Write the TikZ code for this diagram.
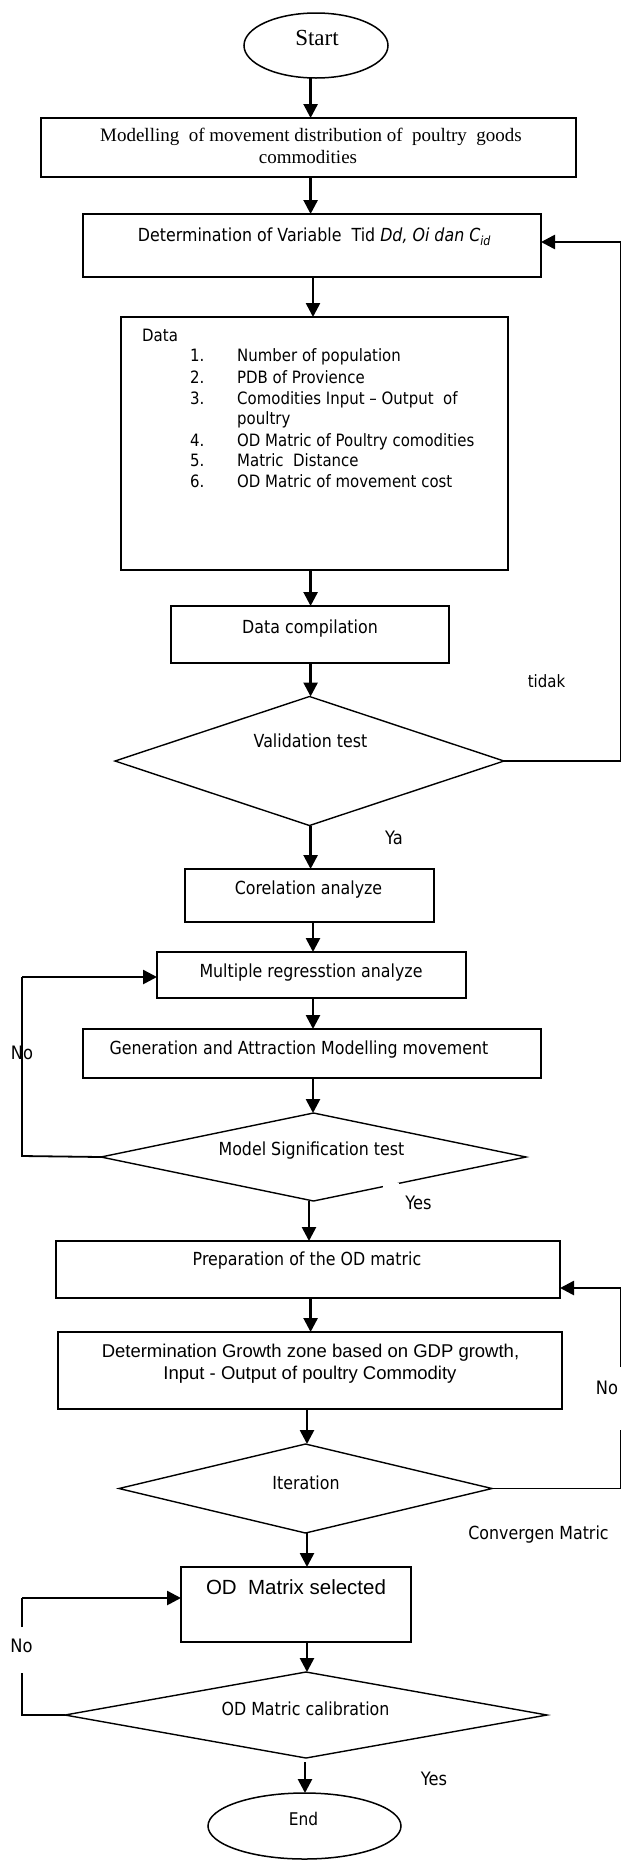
\documentclass[tikz,border=0pt]{standalone}
\usepackage{fontspec}
\setmainfont{DejaVu Sans}[FakeStretch=0.88]
\newfontfamily\serifnf{Liberation Serif}
\newfontfamily\arialnf{Liberation Sans}
\usetikzlibrary{arrows.meta,shapes.geometric}
\begin{document}
\begin{tikzpicture}[x=1pt,y=-1pt,
  box/.style={draw, rectangle, line width=1.8pt, inner sep=0pt, outer sep=0pt},
  dec/.style={draw, diamond, line width=1.4pt, inner sep=0pt, outer sep=0pt},
  term/.style={draw, ellipse, line width=1.5pt, inner sep=0pt, outer sep=0pt},
  arr/.style={-{Triangle[width=14pt,length=14pt]}, line width=2.6pt},
  ln/.style={line width=1.8pt},
  txt/.style={inner sep=0pt, anchor=mid, font=\fontsize{18}{22}\selectfont},
  item/.style={inner sep=0pt, anchor=mid west, font=\fontsize{17}{21}\selectfont},
  lab/.style={inner sep=0pt, anchor=mid, font=\fontsize{18.5}{22}\selectfont}]

\fill[white] (0,0) rectangle (622,1861);
\useasboundingbox (0,0) rectangle (622,1861);

% ---- shapes ----
\node[term, minimum width=144pt, minimum height=65pt] (start) at (316,45.5) {};
\node[txt, font=\serifnf\fontsize{23}{27}\selectfont] (tstart) at (317,43) {Start};

\node[box, minimum width=535pt, minimum height=59pt] (b1) at (308.5,147.5) {};
\node[txt, font=\serifnf\fontsize{19}{23}\selectfont] (t1a) at (311,139) {Modelling\ \ of movement distribution of\ \ poultry\ \ goods};
\node[txt, font=\serifnf\fontsize{19}{23}\selectfont] (t1b) at (308,161) {commodities};

\node[box, minimum width=458pt, minimum height=63pt] (b2) at (312,245.5) {};
\node[txt] (t2) at (314.5,239) {Determination of Variable\ \ Tid \textit{Dd, Oi dan C\textsubscript{id}}};

\node[box, minimum width=387pt, minimum height=253pt] (data) at (314.5,443.5) {};
\node[item] (tdata) at (142,339) {Data};
\node[item] (n1) at (190,359) {1.};
\node[item] (i1) at (237,359) {Number of population};
\node[item] (n2) at (190,381) {2.};
\node[item] (i2) at (237,381) {PDB of Provience};
\node[item] (n3) at (190,402) {3.};
\node[item] (i3a) at (237,402) {Comodities Input – Output\ \ of};
\node[item] (i3b) at (237,422) {poultry};
\node[item] (n4) at (190,444) {4.};
\node[item] (i4) at (237,444) {OD Matric of Poultry comodities};
\node[item] (n5) at (190,464) {5.};
\node[item] (i5) at (237,464) {Matric\ \ Distance};
\node[item] (n6) at (190,485) {6.};
\node[item] (i6) at (237,485) {OD Matric of movement cost};

\node[box, minimum width=278pt, minimum height=57pt] (dc) at (310,634.5) {};
\node[txt] (tdc) at (310,631) {Data compilation};

\node[dec, minimum width=389pt, minimum height=129pt] (val) at (309.5,761) {};
\node[txt] (tval) at (310.5,745) {Validation test};

\node[box, minimum width=249pt, minimum height=53pt] (cor) at (309.5,895.5) {};
\node[txt] (tcor) at (308.5,892) {Corelation analyze};

\node[box, minimum width=309pt, minimum height=46pt] (mult) at (311.5,975) {};
\node[txt] (tmult) at (311,975) {Multiple regresstion analyze};

\node[box, minimum width=458pt, minimum height=49pt] (gen) at (312,1053.5) {};
\node[txt] (tgen) at (299,1052) {Generation and Attraction Modelling movement};

\node[dec, minimum width=425pt, minimum height=88pt] (model) at (313.5,1157) {};
\fill[white] (383,1182.5) rectangle (399,1192);
\node[txt] (tmodel) at (311.5,1153) {Model Signification test};

\node[box, minimum width=504pt, minimum height=57pt] (prep) at (308,1269.5) {};
\node[txt] (tprep) at (307,1263) {Preparation of the OD matric};

\node[box, minimum width=504.5pt, minimum height=77pt] (det) at (310,1370.5) {};
\node[txt, font=\arialnf\fontsize{18.5}{22}\selectfont] (tdeta) at (310.5,1355) {Determination Growth zone based on GDP growth,};
\node[txt, font=\arialnf\fontsize{18.5}{22}\selectfont] (tdetb) at (310,1377) {Input - Output of poultry Commodity};

\node[dec, minimum width=373pt, minimum height=89pt] (iter) at (305.5,1488.5) {};
\node[txt] (titer) at (306,1487) {Iteration};

\node[box, minimum width=230pt, minimum height=75pt] (od) at (296,1604.5) {};
\node[txt, font=\arialnf\fontsize{20.5}{24}\selectfont] (tod) at (296,1592) {OD\ \ Matrix selected};

\node[dec, minimum width=482pt, minimum height=86pt] (cal) at (306,1715) {};
\node[txt] (tcal) at (305.5,1713) {OD Matric calibration};

\node[term, minimum width=193pt, minimum height=66pt] (end) at (304.5,1826) {};
\node[txt, font=\fontsize{17.5}{21}\selectfont] (tend) at (303.5,1823) {End};

% ---- labels ----
\node[lab, font=\fontsize{17}{21}\selectfont] (ltidak) at (546.5,685) {tidak};
\node[lab] (lya) at (394,842) {Ya};
\node[lab] (lno1) at (22,1057) {No};
\node[lab] (lyes1) at (418.5,1207) {Yes};
\node[lab] (lno2) at (607,1392) {No};
\node[lab, font=\fontsize{18}{22}\selectfont] (lconv) at (538.5,1537) {Convergen Matric};
\node[lab] (lno3) at (21.5,1650) {No};
\node[lab] (lyes2) at (434,1783) {Yes};

% ---- main arrows ----
\draw[arr] (start.south -| 310.6,0) -- (b1.north -| 310.6,0);
\draw[arr] (b1.south -| 310.6,0) -- (b2.north -| 310.6,0);
\draw[arr] (b2.south -| 313,0) -- (data.north -| 313,0);
\draw[arr] (data.south -| 310.6,0) -- (dc.north -| 310.6,0);
\draw[arr] (dc.south -| 310.6,0) -- (val.north -| 310.6,0);
\draw[arr] (val.south -| 310.6,0) -- (cor.north -| 310.6,0);
\draw[arr] (cor.south -| 313,0) -- (mult.north -| 313,0);
\draw[arr] (mult.south -| 313,0) -- (gen.north -| 313,0);
\draw[arr] (gen.south -| 313,0) -- (model.north -| 313,0);
\draw[arr] (model.south -| 309,0) -- (prep.north -| 309,0);
\draw[arr] (prep.south -| 310.6,0) -- (det.north -| 310.6,0);
\draw[arr] (det.south -| 307,0) -- (iter.north -| 307,0);
\draw[arr] (iter.south -| 307,0) -- (od.north -| 307,0);
\draw[arr] (od.south -| 307,0) -- (cal.north -| 307,0);
\draw[arr] (cal.south -| 305,0) ++(0,4) -- (end.north -| 305,0);

% ---- loops ----
\coordinate (r1b) at (620.5,761);
\coordinate (r1t) at (620.5,242);
\draw[ln] (val.east) -- (r1b) -- (r1t);
\draw[arr] (r1t) -- (r1t -| b2.east);

\coordinate (l1b) at (22,1156);
\coordinate (l1t) at (22,977);
\draw[ln] (model.west) -- (l1b) -- (l1t);
\draw[arr] (l1t) -- (l1t -| mult.west);

\coordinate (r2b) at (620.5,1488.5);
\coordinate (r2g1) at (620.5,1430);
\coordinate (r2g2) at (620.5,1367);
\coordinate (r2t) at (620.5,1288);
\draw[ln] (iter.east) -- (r2b) -- (r2g1);
\draw[ln] (r2g2) -- (r2t);
\draw[arr] (r2t) -- (r2t -| prep.east);

\coordinate (l2b) at (22,1715);
\coordinate (l2g1) at (22,1673);
\coordinate (l2g2) at (22,1627);
\coordinate (l2t) at (22,1598);
\draw[ln] (cal.west) -- (l2b) -- (l2g1);
\draw[ln] (l2g2) -- (l2t);
\draw[arr] (l2t) -- (l2t -| od.west);
\end{tikzpicture}
\end{document}
